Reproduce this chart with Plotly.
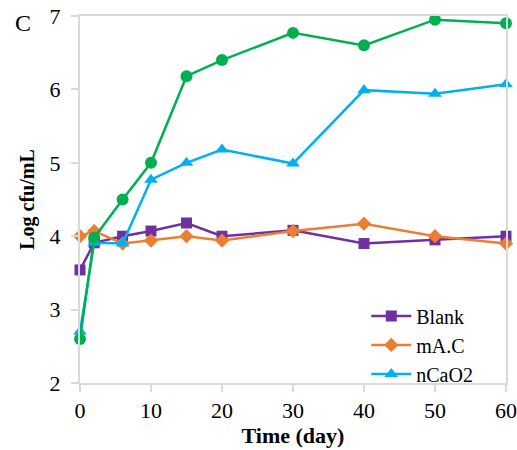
import plotly.graph_objects as go

days = [0, 2, 6, 10, 15, 20, 30, 40, 50, 60]
blank = [3.54, 3.91, 4.0, 4.07, 4.18, 4.0, 4.08, 3.9, 3.95, 4.0]
mac = [4.0, 4.07, 3.9, 3.94, 4.0, 3.94, 4.07, 4.17, 4.0, 3.9]
ncao2 = [2.7, 3.91, 3.9, 4.77, 5.0, 5.18, 4.99, 5.99, 5.94, 6.07]
green = [2.6, 3.98, 4.5, 5.0, 6.18, 6.4, 6.77, 6.6, 6.95, 6.9]

x_ticks = [0, 10, 20, 30, 40, 50, 60]
y_ticks = [2, 3, 4, 5, 6, 7]

serif = "Liberation Serif"

fig = go.Figure()
fig.add_trace(go.Scatter(x=days, y=blank, name="Blank", mode="lines+markers",
                         line=dict(color="#7030A0", width=2.5),
                         marker=dict(symbol="square", size=11, color="#7030A0"),
                         cliponaxis=False))
fig.add_trace(go.Scatter(x=days, y=mac, name="mA.C", mode="lines+markers",
                         line=dict(color="#ED7D31", width=2.5),
                         marker=dict(symbol="diamond", size=11, color="#ED7D31"),
                         cliponaxis=False))
fig.add_trace(go.Scatter(x=days, y=ncao2, name="nCaO2", mode="lines+markers",
                         line=dict(color="#00B0F0", width=2.5),
                         marker=dict(symbol="triangle-up", size=12, color="#00B0F0"),
                         cliponaxis=False))
fig.add_trace(go.Scatter(x=days, y=green, name="", mode="lines+markers",
                         line=dict(color="#00B050", width=2.5),
                         marker=dict(symbol="circle", size=12, color="#00B050"),
                         showlegend=False, cliponaxis=False))

axis_common = dict(showgrid=False, zeroline=False, showline=True, linecolor="#d9d9d9",
                   linewidth=2, mirror=True, ticks="outside", ticklen=7,
                   tickcolor="#d9d9d9", tickwidth=2, automargin=False,
                   tickfont=dict(family=serif, size=22, color="black"))

fig.update_layout(
    width=517, height=450,
    margin=dict(l=80, r=11, t=16, b=67),
    plot_bgcolor="white", paper_bgcolor="white",
    font=dict(family=serif, color="black"),
    xaxis=dict(range=[0, 60], tickvals=x_ticks, ticktext=[str(v) for v in x_ticks],
               title=dict(text="<b>Time (day)</b>", font=dict(family=serif, size=22, color="black"),
                          standoff=2),
               **axis_common),
    yaxis=dict(range=[2, 7], tickvals=y_ticks, ticktext=[str(v) for v in y_ticks],
               title=dict(text="<b>Log cfu/mL</b>", font=dict(family=serif, size=20, color="black"),
                          standoff=10),
               ticklabelstandoff=6,
               **axis_common),
    legend=dict(x=0.672, y=0.236, xanchor="left", yanchor="top",
                font=dict(family=serif, size=20, color="black"),
                bgcolor="rgba(0,0,0,0)", tracegroupgap=0, itemwidth=40),
    annotations=[dict(text="C", xref="paper", yref="paper", x=-0.134, y=0.981,
                      xanchor="center", yanchor="middle", showarrow=False,
                      font=dict(family=serif, size=24, color="black"))],
)

fig.write_html("out.html")
